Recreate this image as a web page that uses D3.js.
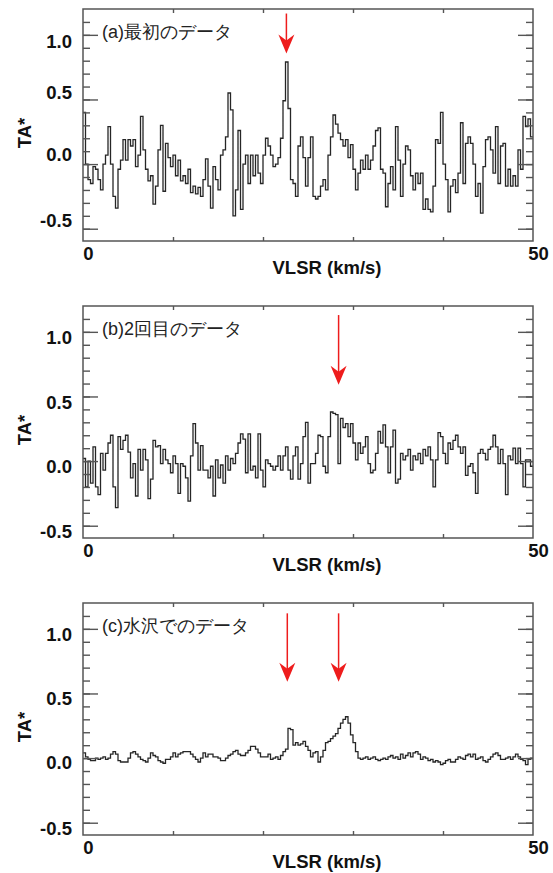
<!DOCTYPE html>
<html>
<head>
<meta charset="utf-8">
<script src="https://cdn.jsdelivr.net/npm/d3@7"></script>
<style>
  body { margin: 0; background: #fff; }
  text { font-family: "Liberation Sans", Arial, sans-serif; }
</style>
</head>
<body>
<div id="vis"></div>
<script>
// Panel titles
const panelTitles = ['(a)最初のデータ', '(b)2回目のデータ', '(c)水沢でのデータ'];

// TA* per channel, 0..50 km/s
const spectrumA = [0.40, 0.00, -0.12, -0.15, -0.02, -0.04, -0.12, -0.20, 0.00, 0.07,
  0.29, 0.00, -0.25, -0.34, -0.04, 0.03, 0.19, 0.03, 0.19, 0.14,
  0.19, -0.02, 0.07, 0.37, 0.11, -0.04, -0.13, -0.09, -0.31, -0.17,
  0.11, 0.30, -0.21, 0.16, 0.05, -0.02, 0.07, -0.09, 0.03, -0.13,
  -0.09, -0.15, -0.04, -0.22, -0.17, -0.23, -0.18, -0.25, -0.12, 0.04,
  -0.17, -0.34, -0.02, -0.12, -0.20, 0.07, 0.11, 0.21, 0.55, 0.42,
  -0.40, -0.20, 0.26, -0.35, 0.00, 0.07, -0.15, 0.07, -0.09, 0.07,
  -0.07, -0.15, 0.07, 0.20, 0.14, 0.07,
  -0.02, 0.00, 0.05, 0.20, 0.49, 0.79, 0.43, -0.12, -0.15, -0.25,
  0.14, 0.21, 0.05, -0.17, 0.05, 0.21, -0.25, -0.27, -0.25, -0.17,
  -0.12, -0.20, 0.07, 0.21, 0.38, 0.31, 0.24, 0.19, 0.14, 0.19,
  0.05, 0.15, -0.04, -0.20, -0.07, 0.03, -0.04, 0.07, -0.04, 0.03,
  0.14, 0.26, 0.28, -0.04, -0.07, -0.33, -0.15, -0.02, -0.20, 0.29,
  0.03, -0.25, 0.00, 0.14, 0.11, -0.09, -0.20, -0.07, -0.15, -0.07,
  -0.35, -0.27, -0.35, -0.37, -0.17, 0.19, 0.16, 0.40, 0.00, -0.12,
  -0.37, -0.17, -0.12, -0.22, -0.07, 0.32, -0.15, 0.16, 0.21, 0.16,
  0.00, -0.25, -0.15, -0.38, -0.02, 0.19, 0.21, 0.11, -0.07, 0.29,
  -0.15, 0.14, 0.16, -0.17, -0.04, -0.17, -0.09, -0.17, 0.11, -0.04,
  0.37, 0.29, 0.35, 0.21];

const spectrumB = [0.02, -0.20, 0.00, -0.17, 0.11, -0.20, -0.26, 0.06, -0.07, 0.06,
  0.14, 0.20, -0.20, -0.36, 0.19, 0.09, 0.16, 0.20, 0.07, -0.13,
  -0.02, -0.27, 0.09, -0.07, 0.09, 0.01, -0.29, -0.14, 0.16, 0.11,
  0.12, -0.02, 0.09, 0.01, -0.02, -0.09, 0.04, -0.02, -0.25, -0.02,
  -0.04, -0.13, -0.31, 0.04, 0.29, 0.14, -0.07, 0.12, -0.07, -0.07,
  -0.13, -0.04, -0.27, 0.01, -0.13, -0.03, -0.17, 0.04, -0.07, 0.02,
  -0.02, 0.06, 0.14, 0.21, 0.17, -0.09, 0.21, -0.07, -0.04, -0.13,
  0.21, -0.07, -0.20, 0.01, -0.02,
  -0.04, -0.07, -0.04, 0.04, -0.07, 0.04, 0.11, -0.07, -0.14, 0.04,
  0.11, -0.14, -0.02, 0.19, 0.30, -0.17, -0.02, -0.02, 0.06, 0.20,
  0.19, -0.04, -0.09, 0.19, 0.38, 0.37, 0.36, -0.02, 0.33, 0.26,
  0.29, 0.19, 0.29, 0.14, 0.01, 0.14, 0.06, 0.11, 0.19, -0.02,
  -0.09, -0.07, 0.06, 0.23, 0.14, 0.28, 0.11, -0.09, 0.11, 0.24,
  -0.17, -0.14, 0.06, 0.01, 0.04, 0.09, -0.07, 0.04, 0.01, 0.06,
  -0.02, 0.09, 0.04, 0.11, 0.01, -0.20, 0.01, 0.22, 0.19, 0.06,
  -0.02, 0.14, 0.09, 0.16, 0.20, 0.11, 0.06, 0.11, -0.11, -0.04,
  -0.02, -0.09, -0.25, 0.06, 0.09, 0.06, 0.01, 0.09, 0.11, 0.20,
  0.11, -0.02, 0.09, -0.02, -0.26, 0.04, 0.01, 0.10, -0.02, 0.10,
  -0.02, -0.20, 0.01, 0.01, -0.04];

const spectrumC = [0.04, 0.01, -0.01, -0.02, -0.02, 0.00, -0.01, 0.00, 0.01, -0.01,
  0.00, 0.03, 0.05, 0.03, -0.02, -0.03, -0.03, -0.03, 0.00, 0.04,
  0.05, 0.03, 0.01, -0.01, -0.02, -0.03, 0.00, 0.04, 0.02, 0.01,
  -0.02, -0.03, -0.04, -0.01, -0.01, 0.01, 0.04, 0.01, 0.03, 0.04,
  0.05, 0.05, 0.05, 0.03, 0.01, -0.01, -0.03, 0.00, 0.04, 0.01,
  0.03, 0.03, 0.01, 0.01, 0.00, -0.02, -0.02, 0.00, 0.02, 0.03,
  0.05, 0.06, 0.03, 0.02, 0.02, 0.04, 0.06, 0.09, 0.09, 0.07,
  0.04, 0.01, 0.01, 0.01, 0.03,
  -0.01, 0.00, 0.01, -0.01, 0.02, 0.05, 0.07, 0.23, 0.22, 0.10,
  0.12, 0.10, 0.11, 0.13, 0.09, 0.06, 0.01, 0.04, 0.05, -0.03,
  0.01, 0.06, 0.12, 0.13, 0.15, 0.17, 0.19, 0.23, 0.27, 0.30,
  0.32, 0.27, 0.18, 0.12, 0.05, 0.00, -0.01, 0.00, 0.01, -0.01,
  0.00, 0.01, -0.01, -0.02, -0.01, 0.00, -0.01, 0.01, 0.02, 0.00,
  0.01, -0.01, 0.03, 0.00, 0.02, 0.04, 0.01, 0.04, 0.05, 0.03,
  -0.01, 0.01, 0.00, -0.02, -0.01, -0.03, -0.02, -0.03, -0.05, -0.04,
  -0.02, -0.01, -0.03, -0.03, -0.01, 0.01, 0.00, -0.01, 0.02, 0.03,
  0.01, 0.03, -0.01, 0.00, 0.01, -0.02, -0.03, -0.01, 0.01, 0.03,
  0.04, 0.02, -0.01, -0.01, 0.00, 0.01, -0.01, 0.01, 0.03, 0.01,
  -0.01, -0.02, -0.05, -0.01, 0.00];

// red arrows: velocity (km/s), start and tip in TA*
const arrowsA = [{v: 22.6, from: 1.165, to: 0.855}];
const arrowsB = [{v: 28.4, from: 1.13, to: 0.59}];
const arrowsC = [{v: 22.7, from: 1.12, to: 0.59}, {v: 28.4, from: 1.12, to: 0.59}];

// axis ticks
const yLabelTicks = [-0.5, 0.0, 0.5, 1.0];
const yMinorTicks = [-0.5, -0.4, -0.3, -0.2, -0.1, 0.0, 0.1, 0.2, 0.3, 0.4, 0.5, 0.6, 0.7, 0.8, 0.9, 1.0, 1.1];
const xLabelTicks = [0, 50];
const xMinorTicks = [10, 20, 30, 40];

// canvas
const width = 553;
const height = 873;
const plotLeft = 83;
const plotW = 450;
const plotH = 232;
const panelTops = [9, 306, 603];
// the labels of panel (a) sit a bit off their ticks in the original (px, per label -0.5..1.0)
const labelShift = [[-9, -10, -7, 6.5], [5.5, 5.5, 5.5, 5.5], [5, 4.5, 4.5, 5]];

const svg = d3.select('#vis').append('svg')
    .attr('width', width)
    .attr('height', height)
    .attr('viewBox', [0, 0, width, height]);

const x = d3.scaleLinear().domain([0, 50]).range([0, plotW]);
const y = d3.scaleLinear().domain([-0.595, 1.2]).range([plotH, 0]);

const stepLine = d3.line()
    .x(d => x(d[0]))
    .y(d => y(d[1]))
    .curve(d3.curveStepAfter);

function drawPanel(k, values, arrows) {
    const g = svg.append('g').attr('transform', `translate(${plotLeft},${panelTops[k]})`);
    const chan = 50 / values.length;
    const pts = values.map((v, i) => [i * chan, v]);
    pts.push([50, values[values.length - 1]]);

    g.append('path')
        .attr('d', stepLine(pts))
        .attr('fill', 'none')
        .attr('stroke', '#262626')
        .attr('stroke-width', 1.3);

    // left/right ticks
    const yTickAxis = (axisFn, size, vals) => axisFn(y).tickValues(vals).tickSize(size).tickFormat('');
    const minorL = g.append('g').call(yTickAxis(d3.axisLeft, -7, yMinorTicks));
    const majorL = g.append('g').call(yTickAxis(d3.axisLeft, -15, yLabelTicks));
    const minorR = g.append('g').attr('transform', `translate(${plotW},0)`).call(yTickAxis(d3.axisRight, -7, yMinorTicks));
    const majorR = g.append('g').attr('transform', `translate(${plotW},0)`).call(yTickAxis(d3.axisRight, -15, yLabelTicks));
    const topT = g.append('g').call(d3.axisTop(x).tickValues(xMinorTicks).tickSize(-4).tickFormat(''));
    const botT = g.append('g').attr('transform', `translate(0,${plotH})`)
        .call(d3.axisBottom(x).tickValues(xMinorTicks).tickSize(-4).tickFormat(''));
    [minorL, majorL, minorR, majorR, topT, botT].forEach(a => {
        a.select('.domain').remove();
        a.selectAll('line').attr('stroke', '#555').attr('stroke-width', 1.4);
    });

    // tick labels
    const yLab = g.append('g')
        .call(d3.axisLeft(y).tickValues(yLabelTicks).tickSize(0).tickPadding(11).tickFormat(d => d.toFixed(1)));
    yLab.select('.domain').remove();
    yLab.selectAll('text')
        .attr('font-size', 18.5).attr('font-weight', 'bold').attr('fill', '#111')
        .attr('font-family', '"Liberation Sans", Arial, sans-serif')
        .attr('dy', '0.34em')
        .attr('transform', (d, i) => `translate(0,${labelShift[k][i]})`);

    const xLab = g.append('g').attr('transform', `translate(0,${plotH})`)
        .call(d3.axisBottom(x).tickValues(xLabelTicks).tickSize(0).tickPadding(6));
    xLab.select('.domain').remove();
    xLab.selectAll('text')
        .attr('font-size', 18.5).attr('font-weight', 'bold').attr('fill', '#111')
        .attr('font-family', '"Liberation Sans", Arial, sans-serif')
        .attr('dx', 5);

    // frame
    g.append('rect')
        .attr('width', plotW).attr('height', plotH)
        .attr('fill', 'none').attr('stroke', '#555').attr('stroke-width', 1.5);

    // axis titles
    g.append('text')
        .attr('x', 244).attr('y', plotH + 33)
        .attr('text-anchor', 'middle')
        .attr('font-size', 18.5).attr('font-weight', 'bold').attr('fill', '#111')
        .text('VLSR (km/s)');
    g.append('text')
        .attr('transform', `translate(-52,${plotH / 2 + 8}) rotate(-90)`)
        .attr('text-anchor', 'middle')
        .attr('font-size', 18.5).attr('font-weight', 'bold').attr('fill', '#111')
        .text('TA*');

    // panel title
    g.append('text')
        .attr('x', 19).attr('y', 29)
        .attr('font-family', '"Noto Sans CJK JP", sans-serif')
        .attr('font-size', 18).attr('fill', '#222')
        .text(panelTitles[k]);

    // arrows
    arrows.forEach(a => {
        const ax = x(a.v);
        const tip = y(a.to);
        g.append('line')
            .attr('x1', ax).attr('x2', ax)
            .attr('y1', y(a.from)).attr('y2', tip - 10)
            .attr('stroke', '#ee1c1c').attr('stroke-width', 1.5);
        g.append('path')
            .attr('d', `M${ax},${tip} L${ax - 8},${tip - 19} L${ax},${tip - 13} L${ax + 8},${tip - 19} Z`)
            .attr('fill', '#ee1c1c');
    });
}

drawPanel(0, spectrumA, arrowsA);
drawPanel(1, spectrumB, arrowsB);
drawPanel(2, spectrumC, arrowsC);
</script>
</body>
</html>
